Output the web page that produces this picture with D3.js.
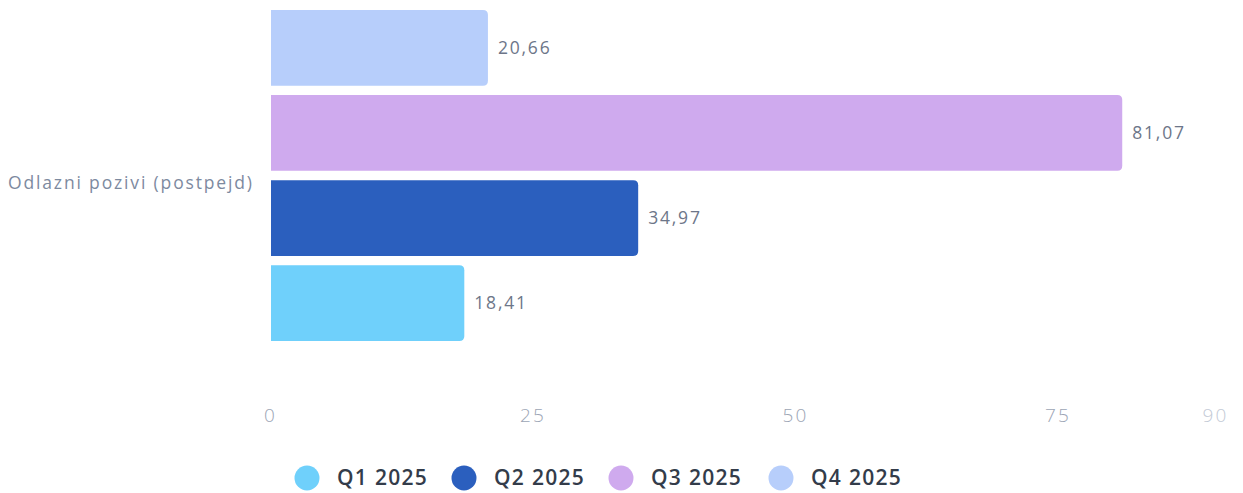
<!DOCTYPE html>
<html><head><meta charset="utf-8">
<script src="https://cdn.jsdelivr.net/npm/d3@7"></script>
<style>body{margin:0;background:#fff}svg{display:block}</style>
</head><body>
<svg id="c" width="1243" height="493"></svg>
<script>
const categories = ["Odlazni pozivi (postpejd)"];
const seriesNames = ["Q1 2025", "Q2 2025", "Q3 2025", "Q4 2025"];
const seriesValues = [18.41, 34.97, 81.07, 20.66];
const seriesColors = ["#6fd0fb", "#2b5fbe", "#cfaaee", "#b7cefb"];
const tickValues = [0, 25, 50, 75, 90];

const svg = d3.select("#c");
const m = {left: 270, right: 28, top: 10, bottom: 152};
const W = 1243, H = 493;
const x = d3.scaleLinear().domain([0, 90]).range([m.left, W - m.right]);
const y0 = d3.scaleBand().domain(categories).range([m.top, H - m.bottom]).padding(0);
const order = seriesNames.slice().reverse();
const y1 = d3.scaleBand().domain(order).range([0, y0.bandwidth()]).paddingInner(0.11).paddingOuter(0);

const fmt = v => v.toFixed(2).replace(".", ",");
const FONT = "'Open Sans', Lato, sans-serif";

function barPath(x0, y, w, h, r) {
  r = Math.min(r, w / 2, h / 2);
  return `M${x0},${y}H${x0 + w - r}Q${x0 + w},${y} ${x0 + w},${y + r}V${y + h - r}Q${x0 + w},${y + h} ${x0 + w - r},${y + h}H${x0}Z`;
}

categories.forEach(cat => {
  const g = svg.append("g");
  seriesNames.forEach((s, i) => {
    const v = seriesValues[i];
    const by = y0(cat) + y1(s);
    g.append("path")
      .attr("d", barPath(x(0) + 1, by, x(v) - x(0), y1.bandwidth(), 5))
      .attr("fill", seriesColors[i]);
    g.append("text")
      .attr("x", x(v) + 11).attr("y", by + y1.bandwidth() / 2)
      .attr("dy", "0.35em")
      .attr("font-family", FONT)
      .attr("font-size", 17.5).attr("letter-spacing", "1.8px").attr("fill", "#6d7689")
      .text(fmt(v));
  });
  svg.append("text")
    .attr("x", 252).attr("y", y0(cat) + y0.bandwidth() / 2 + 7)
    .attr("dy", "0.35em").attr("text-anchor", "end")
    .attr("font-family", FONT)
    .attr("font-size", 17.5).attr("fill", "#7d8a9f")
    .attr("textLength", 244).attr("lengthAdjust", "spacing")
    .text(cat);
});

const axis = d3.axisBottom(x).tickValues(tickValues).tickSize(0).tickPadding(0).tickFormat(d => d);
const ag = svg.append("g").attr("transform", "translate(0,408)").call(axis);
ag.select(".domain").remove();
ag.selectAll("text")
  .attr("font-family", FONT)
  .attr("font-size", 19).attr("letter-spacing", "2.2px")
  .attr("font-weight", 300)
  .attr("fill", d => d === 90 ? "#c3cad6" : "#9ca5b5");

const legX = [307, 464, 621, 781];
const lg = svg.append("g");
seriesNames.forEach((s, i) => {
  lg.append("circle").attr("cx", legX[i]).attr("cy", 478).attr("r", 12.5).attr("fill", seriesColors[i]);
  lg.append("text").attr("x", legX[i] + 30).attr("y", 478).attr("dy", "0.35em")
    .attr("font-family", FONT).attr("font-weight", 600)
    .attr("font-size", 21).attr("letter-spacing", "1.3px").attr("fill", "#333c4a").text(s);
});
</script>
</body></html>
